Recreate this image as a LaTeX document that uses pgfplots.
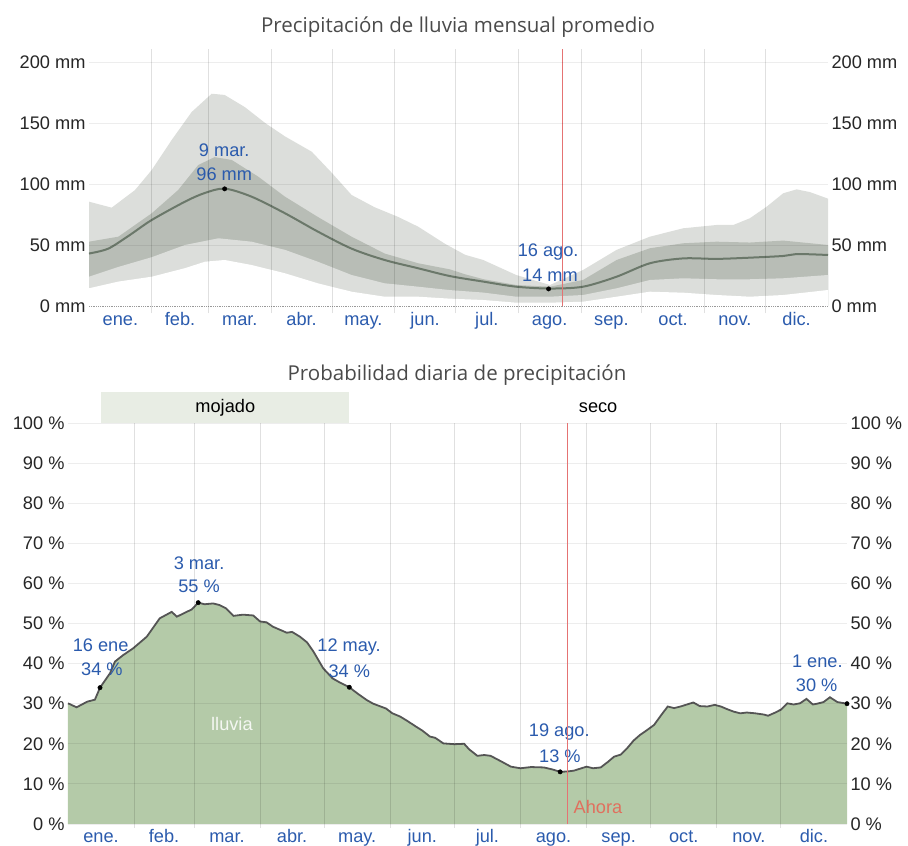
\documentclass[border=0pt]{standalone}
\usepackage{fontspec}
\setmainfont{Liberation Sans}
\newfontfamily\titlefont{Open Sans}
\usepackage{pgfplots}
\pgfplotsset{compat=1.18}
\definecolor{lightband}{HTML}{DCDEDB}
\definecolor{darkband}{HTML}{B8BDB6}
\definecolor{medline}{HTML}{6B786A}
\definecolor{bluetxt}{HTML}{2B5BAD}
\definecolor{nowred}{HTML}{E57373}
\definecolor{ahora}{HTML}{E0705E}
\definecolor{greenfill}{HTML}{B4CAA8}
\definecolor{probline}{HTML}{555555}
\definecolor{mojado}{HTML}{E8EDE4}
\definecolor{titlec}{HTML}{4A4A4A}
\newcommand\fs{\fontsize{18.2}{21}\selectfont}
\pgfplotsset{
  common/.style={
    scale only axis, anchor=south west, clip=false, axis on top,
    xmin=0, xmax=365,
    axis line style={draw=none},
    major tick length=0, minor tick length=0,
    tick label style={font=\fs},
    yticklabel style={text=black!85},
    xtick={15.5,45,74.5,105,135.5,166,196.5,227.5,258,288.5,319,349.5},
    xticklabels={ene.,feb.,mar.,abr.,may.,jun.,jul.,ago.,sep.,oct.,nov.,dic.},
    minor xtick={31,59,90,120,151,181,212,243,273,304,334},
    xminorgrids, minor grid style={black, opacity=0.12, line width=0.8pt},
  },
  overlay/.style={
    scale only axis, anchor=south west, clip=false,
    xmin=0, xmax=365, hide x axis,
    axis y line*=right, y axis line style={draw=none},
    major tick length=0,
    tick label style={font=\fs}, yticklabel style={text=black!85},
  }
}
\begin{document}
\begin{tikzpicture}[x=1pt,y=1pt]
\path[use as bounding box] (0,0) rectangle (908,846);
\node[font=\titlefont\fontsize{20.5}{24}\selectfont, text=titlec, anchor=base] at (458,813) {Precipitación de lluvia mensual promedio};
\node[font=\titlefont\fontsize{20.5}{24}\selectfont, text=titlec, anchor=base] at (457,465.3) {Probabilidad diaria de precipitación};

% ---------------- top panel ----------------
\begin{axis}[common, at={(89pt,532.7pt)}, width=739pt, height=264.7pt,
  ymin=-6, ymax=211,
  xticklabel style={text=bluetxt, anchor=base, yshift=-12pt},
  ytick={0,50,100,150,200}, yticklabels={0 mm,50 mm,100 mm,150 mm,200 mm},
  extra y ticks={50,100,150,200}, extra y tick labels={},
  extra y tick style={grid=major, major grid style={black, opacity=0.07, line width=0.8pt}},
]
\addplot[draw=none, fill=lightband] coordinates {
(0,85.5) (11.2,80.6) (22.7,95) (31,111.5) (40.8,136) (50.7,159) (60.6,174) (67,173) (77,163) (87,150) (96.8,139) (110,126.5) (120,109) (129.7,91) (141,81) (152.7,73) (162.6,65) (175.8,51) (185.7,42) (194.7,37.7) (211,25.4) (227.7,17.2) (244,29.5) (260.6,46) (277,56.8) (293.5,63.7) (310,66.4) (318.2,66.4) (326.4,71.9) (334.7,81.4) (342.9,92.4) (349.5,95.6) (356,93.4) (365,88)
} \closedcycle;
\addplot[draw=none, fill=darkband] coordinates {
(0,52.7) (14.5,56.8) (31,76) (44,95) (54,115.6) (62,122) (70.5,119.7) (83.6,106) (96.8,89.6) (113,73) (129.7,56.8) (146,43) (162.6,35) (178.3,30) (185.7,26) (194.7,22) (211,17.2) (227.7,15.8) (244,21.3) (260.6,37.7) (277,47.3) (293.5,51.4) (310,52.7) (326.4,52) (342.9,53.6) (365,50)
} \closedcycle;
\addplot[draw=none, fill=lightband] coordinates {
(0,24) (14.5,32) (31,40) (47.4,50) (63.9,55.5) (80.3,52.7) (96.8,46) (113,36.3) (129.7,25.4) (146,18.6) (162.6,15.8) (178.3,13) (194.7,11) (211,7.6) (227.7,7.6) (244,9) (260.6,14.5) (277,21.3) (293.5,22.7) (310,21.9) (326.4,21.9) (342.9,22.7) (365,25.4)
} \closedcycle;
\addplot[draw=none, fill=white] coordinates {
(0,14.5) (14.5,20) (31,24) (47.4,31) (57.3,36.3) (67,37.7) (80.3,33.6) (96.8,26.8) (113,18.6) (129.7,11.7) (146,7.6) (162.6,7.6) (178.3,6) (194.7,4.9) (211,2.7) (227.7,2.7) (244,3.5) (260.6,7.6) (277,11.7) (293.5,10.9) (310,9) (326.4,7.6) (342.9,9) (365,13.1)
} \closedcycle;
\addplot[medline, line width=2pt, smooth] coordinates {
(0,43) (9.5,47) (20,58) (31,70.5) (47.4,85.5) (57,92.5) (67,96.2) (80.3,89.6) (96.8,76) (113,61) (129.7,47) (146,37.7) (162.6,30.9) (178.3,24.5) (194.7,20) (211,15.8) (227.7,14.3) (244,15.8) (260.6,24) (277,35) (293.5,39) (310,38.6) (326.4,39.6) (342.9,41) (349.5,42.6) (365,41.8)
};
\draw[black!40, densely dotted, line width=0.8pt] (axis cs:0,0) -- (axis cs:365,0);
\addplot[nowred, line width=1pt] coordinates {(234,0) (234,211)};
\addplot[only marks, mark=*, mark size=2.2pt, black] coordinates {(67,96) (227,14)};
\node[font=\fs, text=bluetxt] at (axis cs:66.8,127.9) {9 mar.};
\node[font=\fs, text=bluetxt] at (axis cs:66.8,108) {96 mm};
\node[font=\fs, text=bluetxt] at (axis cs:226.8,44.5) {16 ago.};
\node[font=\fs, text=bluetxt] at (axis cs:227.7,25.4) {14 mm};
\end{axis}
\begin{axis}[overlay, at={(89pt,532.7pt)}, width=739pt, height=264.7pt,
  ymin=-6, ymax=211,
  ytick={0,50,100,150,200}, yticklabels={0 mm,50 mm,100 mm,150 mm,200 mm}]
\end{axis}

% ---------------- bottom panel ----------------
\begin{axis}[common, at={(68pt,18pt)}, width=779pt, height=405pt,
  ymin=-1, ymax=100,
  xticklabel style={text=bluetxt, anchor=base, yshift=-15pt},
  ytick={0,10,...,100}, yticklabels={0 \%,10 \%,20 \%,30 \%,40 \%,50 \%,60 \%,70 \%,80 \%,90 \%,100 \%},
  ymajorgrids, major grid style={black, opacity=0.07, line width=0.8pt},
]
\fill[mojado] (axis cs:15.3,100) rectangle (axis cs:131.8,107.7);
\node[font=\fs] at (axis cs:73.7,103.7) {mojado};
\node[font=\fs] at (axis cs:248.4,103.7) {seco};
\addplot[draw=none, fill=greenfill] coordinates {
(0,30.1) (4,29.1) (9,30.5) (12.6,31) (15,34) (19.7,37.6) (22,40.5) (25.8,42.1) (30.5,43.8) (36.9,46.7) (43,51.3) (48.6,52.9) (51,51.7) (55.6,52.9) (58,53.5) (61,55.2) (64,54.8) (68,55) (71,54.6) (74,53.8) (77.5,51.9) (82,52.2) (86.8,52) (90,50.5) (93,50.3) (96,49.2) (102.5,47.7) (105,47.9) (108.7,46.7) (112,45.3) (115,43) (119.6,38.8) (124,36.3) (127,35.4) (131.8,34.1) (136,32.4) (140,30.9) (143,30) (149,28.8) (152,27.6) (155.6,26.8) (159,25.7) (163,24.3) (166,23.3) (169.6,21.8) (172,21.5) (175.9,20.1) (181,19.9) (185.6,20) (188,18.6) (191.8,17) (195,17.2) (198,17) (203,15.6) (207.5,14.3) (212,13.9) (217,14.2) (223,14.1) (227,13.6) (230.6,13) (234,13.1) (237,13.3) (243,14.3) (246,13.9) (249.6,14.1) (253,15.5) (255.9,16.8) (259,17.3) (262,18.9) (265,20.8) (268,22.2) (271,23.3) (274.6,24.7) (278,27.2) (281,29.3) (284,28.9) (287,29.3) (290,29.8) (293,30.3) (296,29.4) (299.6,29.3) (303,29.7) (305.9,29.3) (309,28.6) (312,28) (315,27.6) (318,27.8) (322,27.6) (326,27.3) (328,27.0) (331,27.7) (334,28.5) (337,30.1) (340,29.8) (343,30.1) (346,31.2) (349,29.8) (351,30) (354,30.4) (357,31.6) (360.5,30.4) (365,30)
} \closedcycle;
\addplot[probline, line width=1.8pt] coordinates {
(0,30.1) (4,29.1) (9,30.5) (12.6,31) (15,34) (19.7,37.6) (22,40.5) (25.8,42.1) (30.5,43.8) (36.9,46.7) (43,51.3) (48.6,52.9) (51,51.7) (55.6,52.9) (58,53.5) (61,55.2) (64,54.8) (68,55) (71,54.6) (74,53.8) (77.5,51.9) (82,52.2) (86.8,52) (90,50.5) (93,50.3) (96,49.2) (102.5,47.7) (105,47.9) (108.7,46.7) (112,45.3) (115,43) (119.6,38.8) (124,36.3) (127,35.4) (131.8,34.1) (136,32.4) (140,30.9) (143,30) (149,28.8) (152,27.6) (155.6,26.8) (159,25.7) (163,24.3) (166,23.3) (169.6,21.8) (172,21.5) (175.9,20.1) (181,19.9) (185.6,20) (188,18.6) (191.8,17) (195,17.2) (198,17) (203,15.6) (207.5,14.3) (212,13.9) (217,14.2) (223,14.1) (227,13.6) (230.6,13) (234,13.1) (237,13.3) (243,14.3) (246,13.9) (249.6,14.1) (253,15.5) (255.9,16.8) (259,17.3) (262,18.9) (265,20.8) (268,22.2) (271,23.3) (274.6,24.7) (278,27.2) (281,29.3) (284,28.9) (287,29.3) (290,29.8) (293,30.3) (296,29.4) (299.6,29.3) (303,29.7) (305.9,29.3) (309,28.6) (312,28) (315,27.6) (318,27.8) (322,27.6) (326,27.3) (328,27.0) (331,27.7) (334,28.5) (337,30.1) (340,29.8) (343,30.1) (346,31.2) (349,29.8) (351,30) (354,30.4) (357,31.6) (360.5,30.4) (365,30)
};
\addplot[only marks, mark=*, mark size=2.2pt, black] coordinates {(15,34) (61,55.2) (131.8,34.1) (230.6,13) (365,30)};
\node[font=\fs, text=bluetxt] at (axis cs:15.3,44.6) {16 ene};
\node[font=\fs, text=bluetxt] at (axis cs:15.9,38.6) {34 \%};
\node[font=\fs, text=bluetxt] at (axis cs:61.4,65) {3 mar.};
\node[font=\fs, text=bluetxt] at (axis cs:61.4,59.4) {55 \%};
\node[font=\fs, text=bluetxt] at (axis cs:131.7,44.1) {12 may.};
\node[font=\fs, text=bluetxt] at (axis cs:131.8,38.2) {34 \%};
\node[font=\fs, text=bluetxt] at (axis cs:230.2,23) {19 ago.};
\node[font=\fs, text=bluetxt] at (axis cs:230.5,17) {13 \%};
\node[font=\fs, text=bluetxt] at (axis cs:351.1,40.5) {1 ene.};
\node[font=\fs, text=bluetxt] at (axis cs:350.8,34.7) {30 \%};
\node[font=\fs, text=white!85!greenfill] at (axis cs:76.8,24.9) {lluvia};
\node[font=\fs, text=ahora] at (axis cs:248.3,4.3) {Ahora};
\end{axis}
\begin{axis}[overlay, at={(68pt,18pt)}, width=779pt, height=405pt,
  ymin=-1, ymax=100,
  ytick={0,10,...,100}, yticklabels={0 \%,10 \%,20 \%,30 \%,40 \%,50 \%,60 \%,70 \%,80 \%,90 \%,100 \%}]
\addplot[nowred, line width=1.2pt] coordinates {(234,0) (234,100)};
\end{axis}
\end{tikzpicture}
\end{document}
